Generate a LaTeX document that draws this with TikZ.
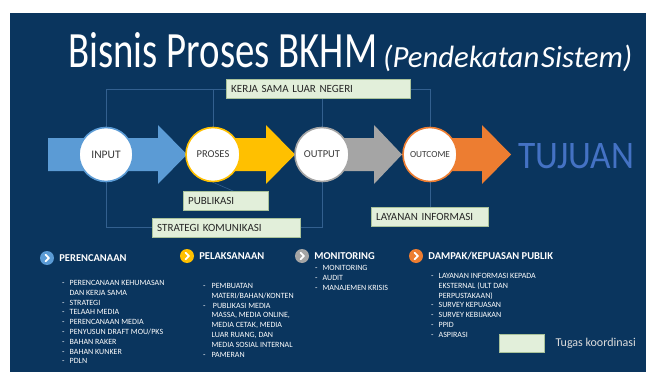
\documentclass[tikz,border=0pt]{standalone}
\usepackage{fontspec}
\setmainfont{Carlito}
\usepackage{graphicx}
\usetikzlibrary{positioning,backgrounds}

\definecolor{navy}{HTML}{0A355E}
\definecolor{linkblue}{HTML}{33608F}
\definecolor{boxfill}{HTML}{E2EFDA}
\definecolor{boxline}{HTML}{A9C29A}
\definecolor{boxtext}{HTML}{262626}
\definecolor{circtext}{HTML}{3A3A3A}
\definecolor{inblue}{HTML}{5B9BD5}
\definecolor{proyellow}{HTML}{FFC000}
\definecolor{outgray}{HTML}{A5A5A5}
\definecolor{outcorange}{HTML}{ED7D31}
\definecolor{goalblue}{HTML}{4472C4}
\definecolor{legendtext}{HTML}{DDDDDD}

\newcommand\boxfont{\fontsize{11}{13}\selectfont}
\newcommand\listfont{\fontsize{8}{9.8}\selectfont}
\newcommand\headfont{\fontsize{10.5}{12}\selectfont\bfseries}

\tikzset{
  stage/.style={circle, fill=white, draw=#1, line width=1.6pt, minimum size=54pt, inner sep=0pt, text=circtext},
  coordbox/.style={draw=boxline, fill=boxfill, text=boxtext, font=\boxfont, minimum height=19pt,
    inner xsep=5pt, inner ysep=0pt, text width=#1, align=left, anchor=west},
  link/.style={draw=linkblue, line width=0.6pt},
  icon/.style={circle, fill=#1, minimum size=14pt, inner sep=0pt,
    path picture={\draw[white, line width=1.7pt, line cap=round, line join=round]
      ([shift={(-1.5pt,3.3pt)}]path picture bounding box.center) --
      ([shift={(1.9pt,0pt)}]path picture bounding box.center) --
      ([shift={(-1.5pt,-3.3pt)}]path picture bounding box.center);}},
  head/.style={font=\headfont, text=white, inner sep=1pt, anchor=west},
  items/.style={font=\listfont, text=white, inner sep=0pt, anchor=base west}
}

\begin{document}
\begin{tikzpicture}[x=1pt, y=-1pt]
\useasboundingbox (0,0) rectangle (646,372);
\begin{scope}[on background layer]
\fill[white] (0,0) rectangle (646,372);
\fill[navy] (10,13) rectangle (646,372);
\end{scope}

% title
\node[anchor=base west, inner sep=0pt, text=white] (title) at (68,67)
  {\resizebox{309pt}{35pt}{Bisnis Proses BKHM}};
\node[anchor=base west, inner sep=0pt, text=white] (subtitle) at (383,67)
  {\resizebox{249pt}{!}{\itshape (Pendekatan\hspace{0.6pt}Sistem)}};

% block arrows
\fill[inblue] (48,138) -- (158,138) -- (158,125) -- (187,154.5) -- (158,184) -- (158,171) -- (48,171) -- cycle;
\fill[proyellow] (213,138) -- (266,138) -- (266,125) -- (295,154.5) -- (266,184) -- (266,171) -- (213,171) -- cycle;
\fill[outgray] (322,138) -- (374,138) -- (374,125) -- (402,154.5) -- (374,184) -- (374,171) -- (322,171) -- cycle;
\fill[outcorange] (430,138) -- (482,138) -- (482,125) -- (511,154.5) -- (482,184) -- (482,171) -- (430,171) -- cycle;

% stages
\node[stage=inblue, font=\fontsize{11.5}{12}\selectfont] (in) at (106,154.5) {INPUT};
\node[stage=proyellow, font=\fontsize{10.5}{12}\selectfont] (pro) at (213,154.5) {PROSES};
\node[stage=outgray, font=\fontsize{10.5}{12}\selectfont] (out) at (322,154.5) {OUTPUT};
\node[stage=outcorange, font=\fontsize{9.3}{10}\selectfont] (outc) at (430,154.5) {OUTCOME};

\node[anchor=base west, inner sep=0pt, text=goalblue] (goal) at (518,168)
  {\resizebox{116pt}{25pt}{TUJUAN}};

% coordination tasks
\node[coordbox=174pt] (kerja) at (226,89) {KERJA SAMA LUAR NEGERI};
\node[coordbox=75pt] (publ) at (183,201) {PUBLIKASI};
\node[coordbox=138pt] (strat) at (152,227.5) {STRATEGI KOMUNIKASI};
\node[coordbox=107pt] (layan) at (371,217) {LAYANAN INFORMASI};

\begin{scope}[on background layer]
\draw[link] (in.north) |- (kerja.west);
\draw[link] (pro.north) -- (pro.north |- kerja.west);
\draw[link] (kerja.east) -| (outc.north);
\draw[link] (kerja.south -| out.north) -- (out.north);
\draw[link] (in.south) |- (strat.west);
\draw[link] (out.south) |- (strat.east);
\draw[link] (pro.south) -- ([xshift=8pt]publ.north);
\draw[link] (outc.south) -- (outc.south |- layan.north);
\end{scope}

% lower part
\node[icon=inblue] (iplan) at (47,258) {};
\node[head, right=4pt of iplan] (hplan) {PERENCANAAN};
\node[icon=proyellow] (iexec) at (187,256) {};
\node[head, right=4pt of iexec] (hexec) {PELAKSANAAN};
\node[icon=outgray] (imon) at (302,256) {};
\node[head, right=4pt of imon] (hmon) {MONITORING};
\node[icon=outcorange] (iimp) at (416,256) {};
\node[head, right=4pt of iimp] (himp) {DAMPAK/KEPUASAN PUBLIK};

\node[items] (lplan) at (62,285.5) {\begin{tabular}[t]{@{}l@{\hspace{5pt}}l@{}}
 - & PERENCANAAN KEHUMASAN\\
   & DAN KERJA SAMA\\
 - & STRATEGI\\
 - & TELAAH MEDIA\\
 - & PERENCANAAN MEDIA\\
 - & PENYUSUN DRAFT MOU/PKS\\
 - & BAHAN RAKER\\
 - & BAHAN KUNKER\\
 - & PDLN
\end{tabular}};

\node[items] (lexec) at (203,288.5) {\begin{tabular}[t]{@{}l@{\hspace{6pt}}l@{}}
 - & PEMBUATAN\\
   & MATERI/BAHAN/KONTEN\\
 - & \,PUBLIKASI MEDIA\\
   & MASSA, MEDIA ONLINE,\\
   & MEDIA CETAK, MEDIA\\
   & LUAR RUANG, DAN\\
   & MEDIA SOSIAL INTERNAL\\
 - & PAMERAN
\end{tabular}};

\node[items] (lmon) at (315,270.5) {\begin{tabular}[t]{@{}l@{\hspace{5pt}}l@{}}
 - & MONITORING\\
 - & AUDIT\\
 - & MANAJEMEN KRISIS
\end{tabular}};

\node[items] (limp) at (431,278.5) {\begin{tabular}[t]{@{}l@{\hspace{5pt}}l@{}}
 - & LAYANAN INFORMASI KEPADA\\
   & EKSTERNAL (ULT DAN\\
   & PERPUSTAKAAN)\\
 - & SURVEY KEPUASAN\\
 - & SURVEY KEBIJAKAN\\
 - & PPID\\
 - & ASPIRASI
\end{tabular}};

% legend
\node[draw=boxline, fill=boxfill, minimum width=45pt, minimum height=18pt, inner sep=0pt, anchor=west] (legbox) at (499,343) {};
\node[text=legendtext, font=\fontsize{12}{13}\selectfont, anchor=west, inner sep=0pt, right=11pt of legbox] (legtext) {Tugas koordinasi};
\end{tikzpicture}
\end{document}
